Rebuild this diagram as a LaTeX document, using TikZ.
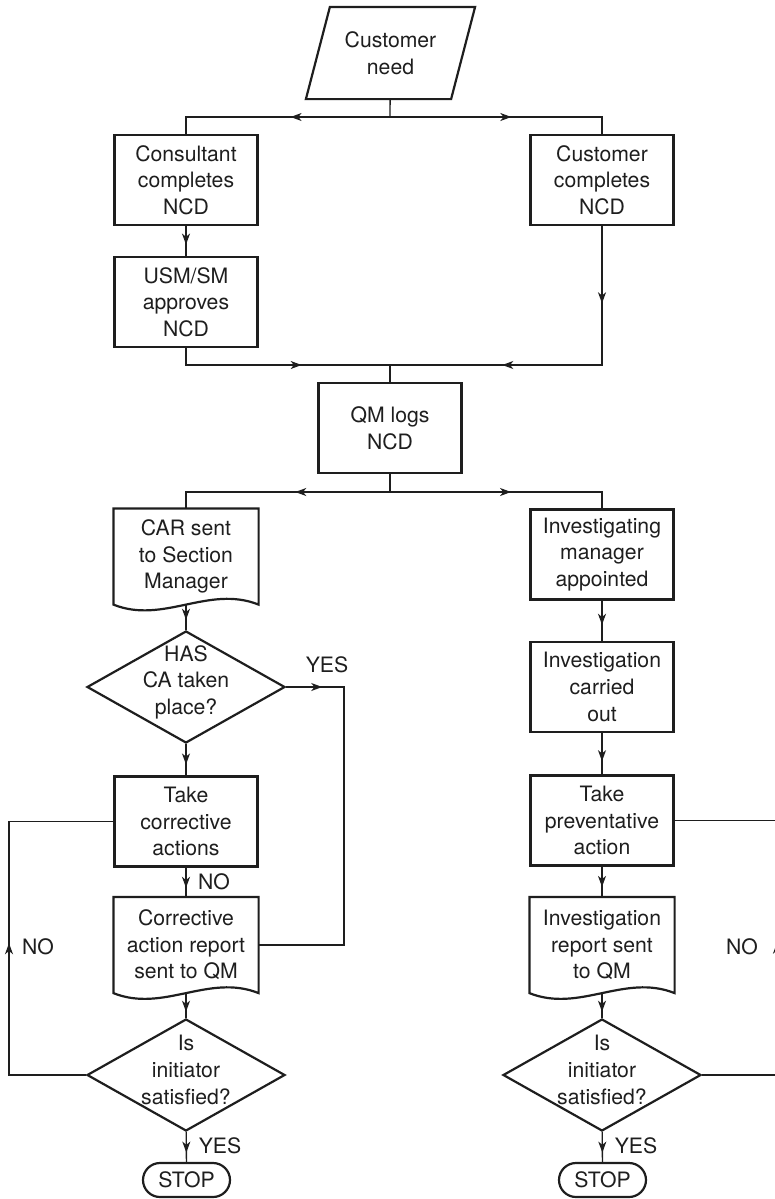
\documentclass[tikz,border=0pt]{standalone}
\usepackage{fontspec}
\setmainfont{TeX Gyre Heros}
\usetikzlibrary{
arrows.meta,
shapes.geometric,
decorations.markings
}
\definecolor{ink}{HTML}{1E1E1E}
\tikzset{
  % Arrow tip placed part way along a connector:
  flow/.style={
    postaction={decorate,
      decoration={markings,
        mark=at position #1 with {\arrow{Stealth[length=5.5pt,width=4pt,inset=1.6pt]}}}}
  }
}

\begin{document}
\begin{tikzpicture}[
    x=0.5pt, y=-0.5pt,
    every node/.style={
      text=ink,
      font=\fontsize{10.6}{13.3}\selectfont
    },
    box/.style={
      draw=ink,
      line width=1.1pt,
      minimum width=71.5pt,
      minimum height=45pt,
      inner sep=1pt,
      align=center
    },
    doc/.style={
      box,
      draw=none,
      minimum height=47pt
    },
    decision/.style={
      diamond,
      draw=ink,
      line width=1.1pt,
      minimum width=99pt,
      minimum height=56pt,
      inner sep=0pt
    },
    dtext/.style={
      align=center,
      yshift=2.5pt
    },
    stopbox/.style={
      draw=ink,
      line width=1.1pt,
      rounded corners=8.5pt,
      minimum width=43.5pt,
      minimum height=17pt,
      inner sep=0pt
    },
    outline/.style={
      draw=ink,
      line width=1.1pt
    },
    link/.style={
      draw=ink,
      line width=0.65pt
    }
  ]
  \useasboundingbox (0,0) rectangle (775,1199);
  \clip (0,0) rectangle (775,1199);

  \node[doc,minimum height=45pt] (need) at (390.5,53) {Customer\\need};
  \draw[outline] ([shift={(12,0)}]need.north west) -- ([shift={(12,0)}]need.north east)
    -- ([shift={(-12,0)}]need.south east) -- ([shift={(-12,0)}]need.south west) -- cycle;

  \node[box] (consult) at (186,180) {Consultant\\completes\\NCD};
  \node[box] (custom) at (602,180) {Customer\\completes\\NCD};
  \node[box] (approve) at (186,302) {USM/SM\\approves\\NCD};
  \node[box] (qmlog) at (390,428) {QM logs\\NCD};

  \coordinate (split1) at (390,117);
  \coordinate (merge) at (390,365);
  \coordinate (split2) at (390,492);

  \draw[link] (need) -- (split1);
  \draw[link,flow=0.45] (split1) -| (consult);
  \draw[link,flow=0.53] (split1) -| (custom);
  \draw[link,flow=0.62] (consult) -- (approve);
  \draw[link,flow=0.6] (approve) |- (merge);
  \draw[link,flow=0.22,flow=0.68] (custom) |- (merge);
  \draw[link] (merge) -- (qmlog);
  \draw[link] (qmlog) -- (split2);

  % corrective action branch
  \node[doc] (carsent) at (186,556.5) {CAR sent\\to Section\\Manager};
  \draw[outline] (carsent.north west) -- (carsent.north east) -- (carsent.south east)
    .. controls +(-50,-20) and +(50,20) .. (carsent.south west) -- cycle;
  \node[decision,label={[dtext]center:{HAS\\CA taken\\place?}}] (catest) at (186,687) {};
  \node[box] (corrective) at (186,821.5) {Take\\corrective\\actions};
  \node[doc] (careport) at (186,945) {Corrective\\action report\\sent to QM};
  \draw[outline] (careport.north west) -- (careport.north east) -- (careport.south east)
    .. controls +(-50,-20) and +(50,20) .. (careport.south west) -- cycle;
  \node[decision,label={[dtext]center:{Is\\initiator\\satisfied?}}] (satleft) at (186,1075) {};
  \node[stopbox] (stopleft) at (186.5,1180) {STOP};

  \coordinate (yesbend) at (344,687);
  \coordinate (noleft) at (9,1075);

  \draw[link,flow=0.09] (catest.east) -- (yesbend) |- (careport.east);
  \draw[link,flow=0.43] (split2) -| (carsent);
  \draw[link,flow=0.6] (carsent) -- (catest);
  \draw[link,flow=0.65] (catest) -- (corrective);
  \draw[link,flow=0.69] (corrective) -- (careport);
  \draw[link,flow=0.75] (careport) -- (satleft);
  \draw[link,flow=0.48] (satleft.west) -- (noleft) |- (corrective.west);
  \draw[link,flow=0.69] (satleft) -- (stopleft);

  \node (yeshas) at (327,665) {YES};
  \node (nocorr) at (214,882) {NO};
  \node (noleftlbl) at (38,947) {NO};
  \node (yesleft) at (220,1146) {YES};

  % investigation branch
  \node[box] (appoint) at (602,554.5) {Investigating\\manager\\appointed};
  \node[box] (carried) at (602,687) {Investigation\\carried\\out};
  \node[box] (prevent) at (602,820.5) {Take\\preventative\\action};
  \node[doc] (invreport) at (602,945) {Investigation\\report sent\\to QM};
  \draw[outline] (invreport.north west) -- (invreport.north east) -- (invreport.south east)
    .. controls +(-50,-20) and +(50,20) .. (invreport.south west) -- cycle;
  \node[decision,label={[dtext]center:{Is\\initiator\\satisfied?}}] (satright) at (602,1075) {};
  \node[stopbox] (stopright) at (602.5,1180) {STOP};

  \coordinate (noright) at (777,1075);

  \draw[link,flow=0.53] (split2) -| (appoint);
  \draw[link,flow=0.6] (appoint) -- (carried);
  \draw[link,flow=0.68] (carried) -- (prevent);
  \draw[link,flow=0.67] (prevent) -- (invreport);
  \draw[link,flow=0.75] (invreport) -- (satright);
  \draw[link,flow=0.48] (satright.east) -- (noright) |- (prevent.east);
  \draw[link,flow=0.69] (satright) -- (stopright);

  \node (yesright) at (636,1146) {YES};
  \node (norightlbl) at (742,947) {NO};
\end{tikzpicture}
\end{document}
